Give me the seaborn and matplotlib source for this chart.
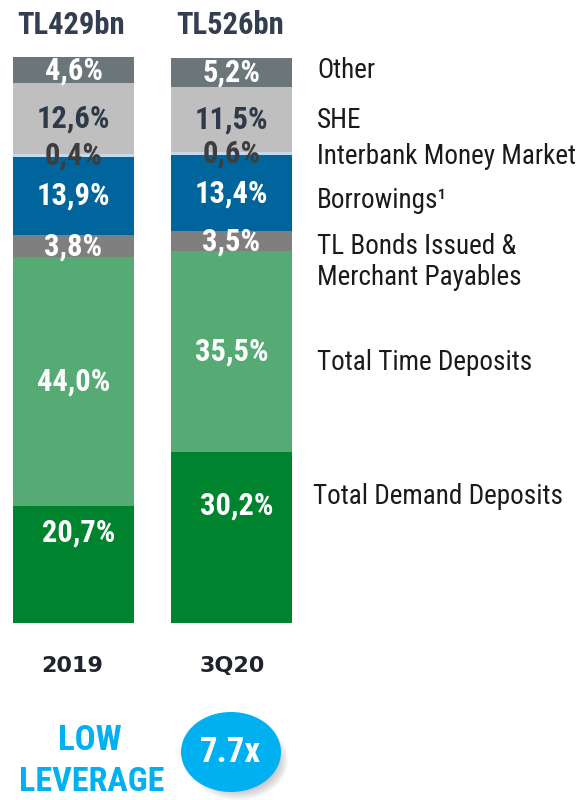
import numpy as np
import pandas as pd
import matplotlib
matplotlib.use("Agg")
import matplotlib.pyplot as plt
import seaborn as sns
from matplotlib.patches import Ellipse

# data, bottom segment first
periods = ["2019", "3Q20"]
totals = ["TL429bn", "TL526bn"]
segments = ["Total Demand Deposits", "Total Time Deposits",
            "TL Bonds Issued &\nMerchant Payables", "Borrowings¹",
            "Interbank Money Market", "SHE", "Other"]
share_2019 = [20.7, 44.0, 3.8, 13.9, 0.4, 12.6, 4.6]
share_3q20 = [30.2, 35.5, 3.5, 13.4, 0.6, 11.5, 5.2]
leverage = "7.7x"

colors = ["#00832f", "#55ab73", "#7f7f7f", "#00659c", "#c5d9ea", "#bfbfbf", "#6b767b"]
label_colors = ["white", "white", "white", "white", "#3d3d3d", "#2e3a4a", "white"]

rows = []
for p, vals in zip(periods, [share_2019, share_3q20]):
    cum = np.cumsum(vals)
    for i, seg in enumerate(segments):
        rows.append(dict(period=p, segment=seg, value=vals[i],
                         bottom=cum[i] - vals[i], top=cum[i]))
df = pd.DataFrame(rows)

sns.set_style("white")
narrow = ["Roboto Condensed", "Liberation Sans", "DejaVu Sans"]

W, H = 578, 800
fig = plt.figure(figsize=(W / 100, H / 100), dpi=100)
ax = fig.add_axes([0, 0, 1, 1])

# stacked bars: draw cumulative heights from the top segment down
for i in reversed(range(len(segments))):
    sub = df[df.segment == segments[i]]
    sns.barplot(data=sub, x="period", y="top", order=periods, color=colors[i],
                saturation=1, width=0.766, linewidth=0, ax=ax)

# percentage labels
for j, p in enumerate(periods):
    sub = df[df.period == p].reset_index(drop=True)
    for i, r in sub.iterrows():
        y = r.bottom + r.value / 2
        x = j
        if i == 0:
            y += 5.6
            x += 0.035
        ax.text(x, y, f"{r.value:.1f}%".replace(".", ","), ha="center", va="center",
                fontsize=22, fontweight="bold", color=label_colors[i], family=narrow)

px_per_unit = 5.66
base_px = 623
ax.set_xlim(-73.5 / 158, (W - 73.5) / 158)
ax.set_ylim(-(H - base_px) / px_per_unit, base_px / px_per_unit)
ax.axis("off")

# overlay in pixel coordinates for the rest of the text
ov = fig.add_axes([0, 0, 1, 1], facecolor="none")
ov.set_xlim(0, W)
ov.set_ylim(H, 0)
ov.axis("off")

for x, t in zip([71, 230], totals):
    ov.text(x, 25, t, ha="center", va="center", fontsize=22, fontweight="bold",
            color="#333f50", family=narrow)

for x, p in zip([72, 232], periods):
    ov.text(x, 666, p, ha="center", va="center", fontsize=16, fontweight="bold",
            color="#1f232b", family="DejaVu Sans")

label_pos = [(313, 497), (317, 362), (317, 262), (317, 200), (317, 157), (317, 120), (317, 70)]
for (x, y), seg in zip(label_pos, segments):
    ov.text(x, y, seg, ha="left", va="center", fontsize=19.5, color="#1a1a1a",
            family=narrow, linespacing=1.2)

ov.text(90, 741, "LOW", ha="center", va="center", fontsize=25, fontweight="bold",
        color="#00b0f0", family=narrow)
ov.text(92, 782, "LEVERAGE", ha="center", va="center", fontsize=24.5, fontweight="bold",
        color="#00b0f0", family=narrow)

# bubble with soft shadow
for k in range(8):
    ov.add_patch(Ellipse((238, 760), 100 - k * 3, 80 - k * 3, color="#555555",
                         alpha=0.05, lw=0))
ov.add_patch(Ellipse((231, 752), 100, 80, color="#00b0f0", lw=0))
ov.text(230, 752, leverage, ha="center", va="center", fontsize=25, fontweight="bold",
        color="white", family=narrow)

fig.savefig("out.png", dpi=100)
